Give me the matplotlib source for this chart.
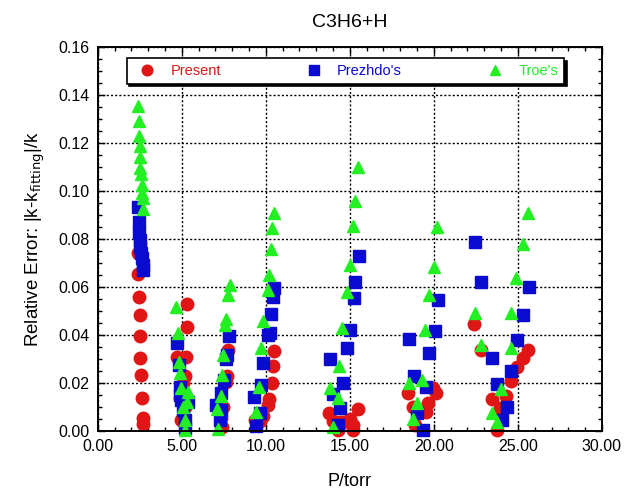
import numpy as np
import matplotlib.pyplot as plt
from matplotlib.ticker import MultipleLocator, FormatStrFormatter

plt.rcParams['font.family'] = ['Liberation Sans', 'DejaVu Sans']

# relative error vs pressure
p_present = [2.40, 2.40, 2.46, 2.50, 2.50, 2.54, 2.56, 2.64, 2.66, 2.70,
             5.32, 5.28, 4.72, 5.24, 5.18, 5.04, 4.88, 5.18, 4.98,
             7.76, 7.70, 7.62, 7.46, 7.36, 7.42,
             10.50, 10.40, 10.34, 10.20, 10.10, 9.84, 9.64, 9.34,
             15.50, 13.77, 14.00, 14.40, 15.00, 15.20, 15.20, 14.30, 14.60,
             20.12, 18.47, 19.66, 19.52, 18.87, 18.77, 19.92,
             22.40, 22.80, 25.62, 25.32, 24.92, 24.58, 23.43, 24.27, 23.93, 23.73]
e_present = [0.0739, 0.0652, 0.0558, 0.0481, 0.0396, 0.0302, 0.0232, 0.0138, 0.0052, 0.0028,
             0.0528, 0.0433, 0.0308, 0.0308, 0.0228, 0.0197, 0.0135, 0.0100, 0.0045,
             0.0336, 0.0228, 0.0204, 0.0100, 0.0052, 0.0017,
             0.0330, 0.0268, 0.0198, 0.0130, 0.0105, 0.0060, 0.0040, 0.0045,
             0.0089, 0.0072, 0.0042, 0.0038, 0.0047, 0.0024, 0.0003, 0.0003, 0.0038,
             0.0156, 0.0156, 0.0114, 0.0079, 0.0024, 0.0100, 0.0177,
             0.0445, 0.0336, 0.0336, 0.0302, 0.0264, 0.0207, 0.0131, 0.0145, 0.0093, 0.0003]

p_prezhdo = [2.42, 2.44, 2.48, 2.50, 2.52, 2.56, 2.60, 2.66, 2.70,
             4.74, 4.84, 4.88, 4.92, 4.98, 5.38, 5.18, 5.18, 5.08,
             7.82, 7.66, 7.62, 7.50, 7.36, 7.06, 7.26, 7.36,
             10.50, 10.40, 10.30, 10.24, 10.14, 9.84, 9.74, 9.30, 9.64, 9.44,
             15.54, 15.30, 15.24, 15.00, 14.80, 13.81, 14.60, 14.01, 14.40, 14.30,
             20.22, 20.06, 18.53, 19.72, 18.81, 19.52, 19.01, 19.33,
             22.44, 22.80, 25.67, 25.32, 24.96, 23.43, 24.58, 23.73, 24.33, 24.03]
e_prezhdo = [0.0933, 0.0871, 0.0822, 0.0795, 0.0767, 0.0739, 0.0718, 0.0690, 0.0670,
             0.0367, 0.0274, 0.0183, 0.0149, 0.0128, 0.0121, 0.0045, 0.0010, 0.0086,
             0.0395, 0.0315, 0.0297, 0.0211, 0.0156, 0.0107, 0.0045, 0.0086,
             0.0593, 0.0556, 0.0487, 0.0406, 0.0399, 0.0283, 0.0190, 0.0142, 0.0073, 0.0018,
             0.0728, 0.0621, 0.0554, 0.0420, 0.0346, 0.0299, 0.0197, 0.0152, 0.0096, 0.0024,
             0.0545, 0.0413, 0.0381, 0.0325, 0.0228, 0.0183, 0.0072, 0.0003,
             0.0785, 0.0618, 0.0600, 0.0482, 0.0378, 0.0304, 0.0249, 0.0193, 0.0100, 0.0045]

p_troe = [2.40, 2.44, 2.46, 2.50, 2.52, 2.54, 2.58, 2.60, 2.64, 2.66, 2.70,
          4.68, 4.78, 4.82, 4.88, 4.98, 5.38, 5.08, 5.28, 5.18, 5.18,
          7.86, 7.72, 7.62, 7.56, 7.46, 7.42, 7.32, 7.10, 7.16,
          10.48, 10.38, 10.28, 10.20, 10.10, 9.84, 9.70, 9.60, 9.44,
          15.50, 15.30, 15.20, 15.00, 14.80, 14.56, 14.36, 13.81, 14.30, 14.01,
          20.20, 20.00, 19.70, 19.50, 19.32, 18.53, 18.97, 18.77,
          25.62, 25.32, 24.91, 22.44, 24.58, 22.80, 24.56, 24.00, 23.43, 23.73]
e_troe = [0.1354, 0.1290, 0.1227, 0.1186, 0.1140, 0.1096, 0.1068, 0.1024, 0.0990, 0.0971, 0.0922,
          0.0513, 0.0406, 0.0285, 0.0242, 0.0177, 0.0163, 0.0100, 0.0121, 0.0045, 0.0003,
          0.0605, 0.0565, 0.0466, 0.0438, 0.0316, 0.0230, 0.0144, 0.0089, 0.0005,
          0.0908, 0.0843, 0.0756, 0.0650, 0.0584, 0.0456, 0.0346, 0.0181, 0.0077,
          0.1098, 0.0957, 0.0853, 0.0688, 0.0579, 0.0427, 0.0270, 0.0177, 0.0135, 0.0017,
          0.0850, 0.0680, 0.0565, 0.0420, 0.0211, 0.0197, 0.0114, 0.0047,
          0.0908, 0.0778, 0.0635, 0.0489, 0.0492, 0.0357, 0.0343, 0.0172, 0.0072, 0.0038]

red = '#e01515'
blue = '#0a0ad0'
green = '#22f022'

fig = plt.figure(figsize=(6.27, 4.95), dpi=100)
ax = fig.add_axes([0.156, 0.130, 0.804, 0.776])

ax.plot(p_present, e_present, 'o', color=red, ms=9, mec=red, label='Present', clip_on=False)
ax.plot(p_prezhdo, e_prezhdo, 's', color=blue, ms=8.5, mec=blue, label="Prezhdo's", clip_on=False)
ax.plot(p_troe, e_troe, '^', color=green, ms=9, mec=green, label="Troe's", clip_on=False)

ax.set_xlim(0, 30)
ax.set_ylim(0, 0.16)
ax.xaxis.set_major_locator(MultipleLocator(5))
ax.xaxis.set_minor_locator(MultipleLocator(1))
ax.yaxis.set_major_locator(MultipleLocator(0.02))
ax.yaxis.set_minor_locator(MultipleLocator(0.005))
ax.xaxis.set_major_formatter(FormatStrFormatter('%.2f'))
ax.yaxis.set_major_formatter(FormatStrFormatter('%.2f'))
ax.tick_params(which='both', direction='in', top=True, right=True, labelsize=11.5, width=1)
ax.tick_params(which='major', length=5, pad=6)
ax.tick_params(which='minor', length=3)
ax.grid(True, which='major', color='black', linestyle=(0, (1.5, 1.5)), linewidth=1)
for s in ax.spines.values():
    s.set_linewidth(1.4)

ax.set_xlabel('P/torr', fontsize=13, labelpad=14)
ax.set_ylabel('Relative Error: |k-k$_{\\mathrm{fitting}}$|/k', fontsize=13.5, labelpad=8)
ax.set_title('C3H6+H', fontsize=14, pad=14)

leg = ax.legend(loc='upper left', bbox_to_anchor=(0.057, 0.90, 0.868, 0.0705),
                mode='expand', ncol=3, fancybox=False, shadow={'color': 'black', 'alpha': 1},
                edgecolor='black', framealpha=1, fontsize=10.5, handletextpad=0.6,
                borderpad=0.4, borderaxespad=0, labelcolor='markerfacecolor', markerscale=0.85)
leg.get_frame().set_linewidth(1.2)

fig.savefig('out.png', dpi=100)
